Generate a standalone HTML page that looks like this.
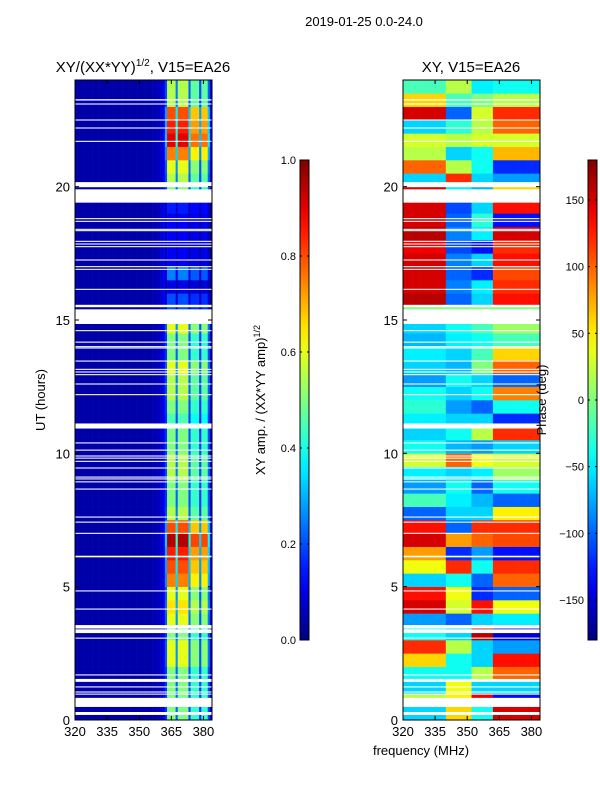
<!DOCTYPE html>
<html><head><meta charset="utf-8">
<style>
body{margin:0;background:#fff;}
svg{display:block;font-family:"Liberation Sans",sans-serif;}
</style></head>
<body>
<svg id="chart" width="600" height="800" viewBox="0 0 600 800">
<defs>
<linearGradient id="jetgrad" x1="0" y1="1" x2="0" y2="0"></linearGradient>
</defs>
<text x="364" y="26" font-size="13" text-anchor="middle">2019-01-25 0.0-24.0</text>
<text x="143" y="72" font-size="15" text-anchor="middle">XY/(XX*YY)<tspan font-size="10" dy="-6">1/2</tspan><tspan dy="6">, V15=EA26</tspan></text>
<text x="471" y="72" font-size="15" text-anchor="middle">XY, V15=EA26</text>
<g id="ampPanel"></g>
<g id="phasePanel"></g>
<g id="axes"></g>
<text transform="translate(45,400) rotate(-90)" font-size="13" text-anchor="middle">UT (hours)</text>
<text transform="translate(265,400) rotate(-90)" font-size="13" text-anchor="middle">XY amp. / (XX*YY amp)<tspan font-size="9" dy="-5">1/2</tspan></text>
<text transform="translate(546,400) rotate(-90)" font-size="13" text-anchor="middle">Phase (deg)</text>
<text x="421" y="755" font-size="13" text-anchor="middle">frequency (MHz)</text>
</svg>
<script>
// ---- data ----
const ampRows = [0.5,0.5,0.5,0.5,0.6,0.6,0.5,0.6,0.65,0.6,0.75,0.8,0.85,0.95,0.8,0.55,0.5,0.5,0.55,0.55,0.5,0.5,0.45,0.5,0.55,0.55,0.6,0.5,0.5,0.6,0.2,0.2,0.1,0.25,0.12,0.12,0.12,0.12,0.15,0.5,0.55,0.6,0.75,0.9,0.85,0.8,0.55,0.55];
const ampCols = [0.04,0.04,0.04,0.04,0.04,0.04,0.04,0.04,0.04,0.04,0.04,0.04,0.04,0.04,0.04,0.04,0.04,0.04,0.04,0.04,0.04,0.04,0.04,0.04,0.04,0.04,0.04,0.04,0.04,0.04,0.04,0.04,0.04,0.04,0.04,0.04,0.05,0.05,0.06,0.06,0.08,0.12,0.35,1.0,1.0,1.0,1.0,0.45,1.0,1.0,1.0,1.0,1.0,0.4,0.85,0.85,0.85,0.85,0.35,0.85,0.85,0.85,0.4,0.15];
const phaseA = [-60,20,-60,-40,60,120,-40,-80,150,130,-60,40,80,150,130,-100,-20,-80,-50,30,-40,-60,-50,-30,-40,-80,-60,-50,-70,-60,0,160,150,150,150,140,160,150,150,150,-60,100,20,30,-60,150,60,-20];
const phaseB = [60,50,40,-40,-40,20,-60,-100,30,40,-40,120,-120,80,-100,-60,-50,-40,-60,100,-70,-40,-60,-80,-60,-40,-70,-60,-50,-40,0,-100,-90,-100,-90,-110,-90,-100,-110,-50,120,20,-60,20,-30,-100,-20,20];
const phaseC = [-40,140,-60,20,-60,-60,160,-60,130,-120,-100,-40,-80,100,120,-60,-70,-100,-50,40,-80,20,-60,-100,-40,-60,0,-20,-40,-20,0,-60,-50,-120,-60,-130,-50,-30,-60,-70,-60,-40,-40,30,20,30,0,-50];
const phaseD = [150,-130,-60,100,130,-80,-150,-50,40,-100,100,120,-130,110,120,50,-100,-40,10,30,-60,120,-120,-40,90,-100,100,60,-20,10,0,130,120,110,130,120,150,-130,130,60,-80,-120,70,30,100,120,20,-40];
const gaps = [[0.19,0.3],[0.49,0.83],[0.95,0.99],[1.03,1.07],[1.22,1.26],[1.43,1.54],[1.67,1.71],[3.05,3.09],[3.26,3.4],[3.43,3.56],[4.14,4.18],[4.82,4.86],[6.1,6.16],[6.98,7.02],[7.4,7.44],[7.59,7.63],[8.64,8.68],[8.91,8.95],[9.02,9.06],[9.09,9.13],[9.43,9.47],[9.68,9.72],[9.8,9.84],[9.88,9.92],[10.1,10.14],[10.37,10.41],[10.93,11.12],[12.18,12.22],[12.58,12.62],[12.93,12.97],[13.03,13.07],[13.13,13.17],[13.44,13.48],[13.93,13.97],[13.98,14.02],[14.15,14.19],[14.58,14.62],[14.85,15.4],[15.48,15.57],[16.13,16.17],[16.88,16.92],[16.98,17.02],[17.23,17.27],[17.73,17.77],[17.83,17.87],[17.93,17.97],[18.33,18.37],[18.38,18.42],[18.68,18.72],[18.78,18.82],[19.4,19.9],[19.98,20.17],[21.68,21.72],[22.18,22.22],[22.48,22.52],[23.08,23.12],[23.23,23.28]];
const yTicks = [0,5,10,15,20];
const xTicks = [320,335,350,365,380];
const ampCbTicks = [0.0,0.2,0.4,0.6,0.8,1.0];
const phaseCbTicks = [-150,-100,-50,0,50,100,150];

// ---- scales ----
const NS="http://www.w3.org/2000/svg";
const PY0=80, PY1=720, PW=137;
function yS(h){return PY1-(h/24)*(PY1-PY0);}
function xS(x0,f){return x0+(f-320)/64*PW;}
function clamp(v){return Math.max(0,Math.min(1,v));}
function jet(v){v=clamp(v);const r=clamp(1.5-Math.abs(4*v-3)),g=clamp(1.5-Math.abs(4*v-2)),b=clamp(1.5-Math.abs(4*v-1));
return `rgb(${Math.round(r*255)},${Math.round(g*255)},${Math.round(b*255)})`;}
function mk(tag,attrs,parent){const e=document.createElementNS(NS,tag);for(const k in attrs)e.setAttribute(k,attrs[k]);parent.appendChild(e);return e;}
function phaseAt(i,f){if(f<340)return phaseA[i];if(f<352)return phaseB[i];if(f<362)return phaseC[i];return phaseD[i];}

const ampG=document.getElementById('ampPanel'), phG=document.getElementById('phasePanel'), ax=document.getElementById('axes');
const rowH=(PY1-PY0)/ampRows.length, colW=PW/ampCols.length;
for(let i=0;i<ampRows.length;i++){
  const y=yS((i+1)*0.5);
  for(let j=0;j<ampCols.length;j++){
    const f=320+j;
    const c=ampCols[j];
    const v=c<0.15?c:Math.min(1,ampRows[i]*c);
    const r=mk('rect',{x:xS(75,f).toFixed(2),y:y.toFixed(2),width:(colW+0.3).toFixed(2),height:(rowH+0.3).toFixed(2),fill:jet(v)},ampG);
    
    
  }
  for(let j=0;j<32;j++){
    const f=320+j*2;
    const p=phaseAt(i,f+1);
    const r=mk('rect',{x:xS(403,f).toFixed(2),y:y.toFixed(2),width:(colW*2+0.3).toFixed(2),height:(rowH+0.3).toFixed(2),fill:jet((p+180)/360)},phG);
    
    
  }
}
// gaps
for(const g of gaps){
  for(const x0 of [75,403]){
    const r=mk('rect',{x:x0,y:yS(g[1]).toFixed(2),width:PW,height:(yS(g[0])-yS(g[1])).toFixed(2),fill:'#fff'},x0===75?ampG:phG);
    
    
  }
}
// axes frames & ticks
for(const x0 of [75,403]){
  const fr=mk('rect',{x:x0,y:PY0,width:PW,height:PY1-PY0,fill:'none',stroke:'#000','stroke-width':1},ax);
  
  
  for(const t of yTicks){
    const y=yS(t);
    mk('line',{x1:x0,x2:x0+4,y1:y,y2:y,stroke:'#000'},ax);
    mk('line',{x1:x0+PW,x2:x0+PW-4,y1:y,y2:y,stroke:'#000'},ax);
    const tx=mk('text',{x:x0-5,y:y+5,'font-size':13,'text-anchor':'end'},ax);
    tx.textContent=t;
    
    
  }
  for(const t of xTicks){
    const x=xS(x0,t);
    mk('line',{x1:x,x2:x,y1:PY1,y2:PY1-4,stroke:'#000'},ax);
    mk('line',{x1:x,x2:x,y1:PY0,y2:PY0+4,stroke:'#000'},ax);
    const tx=mk('text',{x:x,y:736,'font-size':13,'text-anchor':'middle'},ax);
    tx.textContent=t;
    
    
  }
}
// colorbars
const grad=document.getElementById('jetgrad');
for(let k=0;k<=20;k++){mk('stop',{offset:(k/20),'stop-color':jet(k/20)},grad);}
function colorbar(x0,ticks,toFrac,name,fmt){
  const r=mk('rect',{x:x0,y:160,width:9,height:480,fill:'url(#jetgrad)',stroke:'#000','stroke-width':1},ax);
  
  
  for(const t of ticks){
    const y=640-toFrac(t)*480;
    mk('line',{x1:x0,x2:x0+2,y1:y,y2:y,stroke:'#000'},ax);
    mk('line',{x1:x0+9,x2:x0+7,y1:y,y2:y,stroke:'#000'},ax);
    const tx=mk('text',{x:x0-4,y:y+4,'font-size':11,'text-anchor':'end'},ax);
    tx.textContent=fmt(t);
    
    
  }
}
colorbar(300,ampCbTicks,t=>t,'amp-colorbar',t=>t.toFixed(1));
colorbar(588,phaseCbTicks,t=>(t+180)/360,'phase-colorbar',t=>t<0?'\u2212'+(-t):String(t));
</script>
</body></html>
